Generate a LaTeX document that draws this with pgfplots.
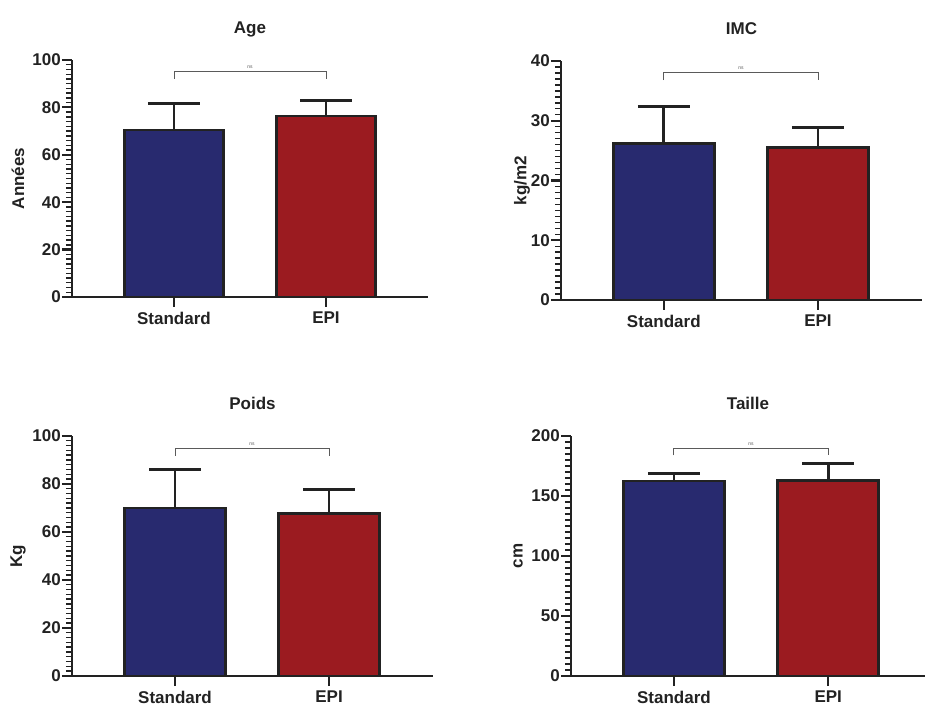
\documentclass[border=0pt]{standalone}
\usepackage{pgfplots}
\pgfplotsset{compat=1.18}
\usepackage{fontspec}
\setmainfont{Liberation Sans}

\definecolor{stdblue}{RGB}{40,42,111}
\definecolor{epired}{RGB}{155,27,32}
\definecolor{outline}{RGB}{34,34,34}
\definecolor{bracketgray}{RGB}{90,90,90}

\newcommand{\bigfont}{\fontsize{17bp}{20bp}\selectfont\bfseries}

\pgfplotsset{
  prism/.style={
    scale only axis,
    axis x line*=bottom,
    axis y line*=left,
    axis line style={line width=2.8bp, outline},
    ymin=0,
    xtick={0,1},
    xticklabels={Standard,EPI},
    minor y tick num=9,
    tick align=outside,
    major tick length=10bp,
    minor tick length=6bp,
    every major tick/.style={line width=2.2bp, outline},
    every minor tick/.style={line width=1.4bp, outline},
    /pgf/number format/assume math mode=true,
    tick label style={font=\bigfont, text=outline},
    yticklabel style={inner xsep=1bp},
    xticklabel style={inner ysep=4.5bp},
    title style={font=\bigfont, text=outline, anchor=base, yshift=21bp},
    every axis y label/.style={at={(axis description cs:0,0.5)}, rotate=90, anchor=center, font=\bigfont, text=outline},
    bar width=0.655,
    clip=false,
  },
  groupbar/.style={
    ybar, bar shift=0pt, draw=outline, line width=2.8bp, fill=#1,
    error bars/.cd, y dir=plus, y explicit,
    error mark=|,
    error bar style={line width=2.8bp, outline},
    error mark options={line width=2.8bp, outline, mark size=26bp},
  },
  bracket/.style={no marks, line width=0.9bp, bracketgray, sharp plot},
}

\begin{document}
\begin{tikzpicture}
\useasboundingbox (0bp,0bp) rectangle (925bp,706bp);

% Age
\begin{axis}[prism, at={(72bp,409bp)}, anchor=south west,
  width=356bp, height=237bp, xmin=-0.671, xmax=1.671, ymax=100,
  ytick={0,20,40,60,80,100}, title={Age}, ylabel={Années},
  ylabel style={yshift=54bp}]
  \addplot[groupbar=stdblue] coordinates {(0,70.5) +- (0,11.1)};
  \addplot[groupbar=epired] coordinates {(1,76.4) +- (0,6.6)};
  \addplot[bracket] coordinates {(0,92) (0,95) (1,95) (1,92)};
  \node[font=\fontsize{5bp}{6bp}\selectfont, text=bracketgray, anchor=base] at (axis cs:0.5,96.3) {ns};
\end{axis}

% IMC
\begin{axis}[prism, at={(561bp,406bp)}, anchor=south west,
  width=361bp, height=239bp, xmin=-0.667, xmax=1.675, ymax=40,
  ytick={0,10,20,30,40}, title={IMC}, ylabel={kg/m2},
  ylabel style={yshift=39bp}]
  \addplot[groupbar=stdblue] coordinates {(0,26.2) +- (0,6.2)};
  \addplot[groupbar=epired] coordinates {(1,25.5) +- (0,3.4)};
  \addplot[bracket] coordinates {(0,36.8) (0,38.0) (1,38.0) (1,36.8)};
  \node[font=\fontsize{5bp}{6bp}\selectfont, text=bracketgray, anchor=base] at (axis cs:0.5,38.5) {ns};
\end{axis}

% Poids
\begin{axis}[prism, at={(72bp,30bp)}, anchor=south west,
  width=361bp, height=240bp, xmin=-0.669, xmax=1.675, ymax=100,
  ytick={0,20,40,60,80,100}, title={Poids}, ylabel={Kg},
  ylabel style={yshift=54bp}]
  \addplot[groupbar=stdblue] coordinates {(0,70.0) +- (0,15.9)};
  \addplot[groupbar=epired] coordinates {(1,67.8) +- (0,10.0)};
  \addplot[bracket] coordinates {(0,91.8) (0,94.9) (1,94.9) (1,91.8)};
  \node[font=\fontsize{5bp}{6bp}\selectfont, text=bracketgray, anchor=base] at (axis cs:0.5,96.2) {ns};
\end{axis}

% Taille
\begin{axis}[prism, at={(571bp,30bp)}, anchor=south west,
  width=354bp, height=240bp, xmin=-0.667, xmax=1.627, ymax=200,
  ytick={0,50,100,150,200}, title={Taille}, ylabel={cm},
  ylabel style={yshift=53bp}]
  \addplot[groupbar=stdblue] coordinates {(0,162.5) +- (0,6.4)};
  \addplot[groupbar=epired] coordinates {(1,162.8) +- (0,14.4)};
  \addplot[bracket] coordinates {(0,183.9) (0,189.7) (1,189.7) (1,183.9)};
  \node[font=\fontsize{5bp}{6bp}\selectfont, text=bracketgray, anchor=base] at (axis cs:0.5,192.3) {ns};
\end{axis}
\end{tikzpicture}
\end{document}
